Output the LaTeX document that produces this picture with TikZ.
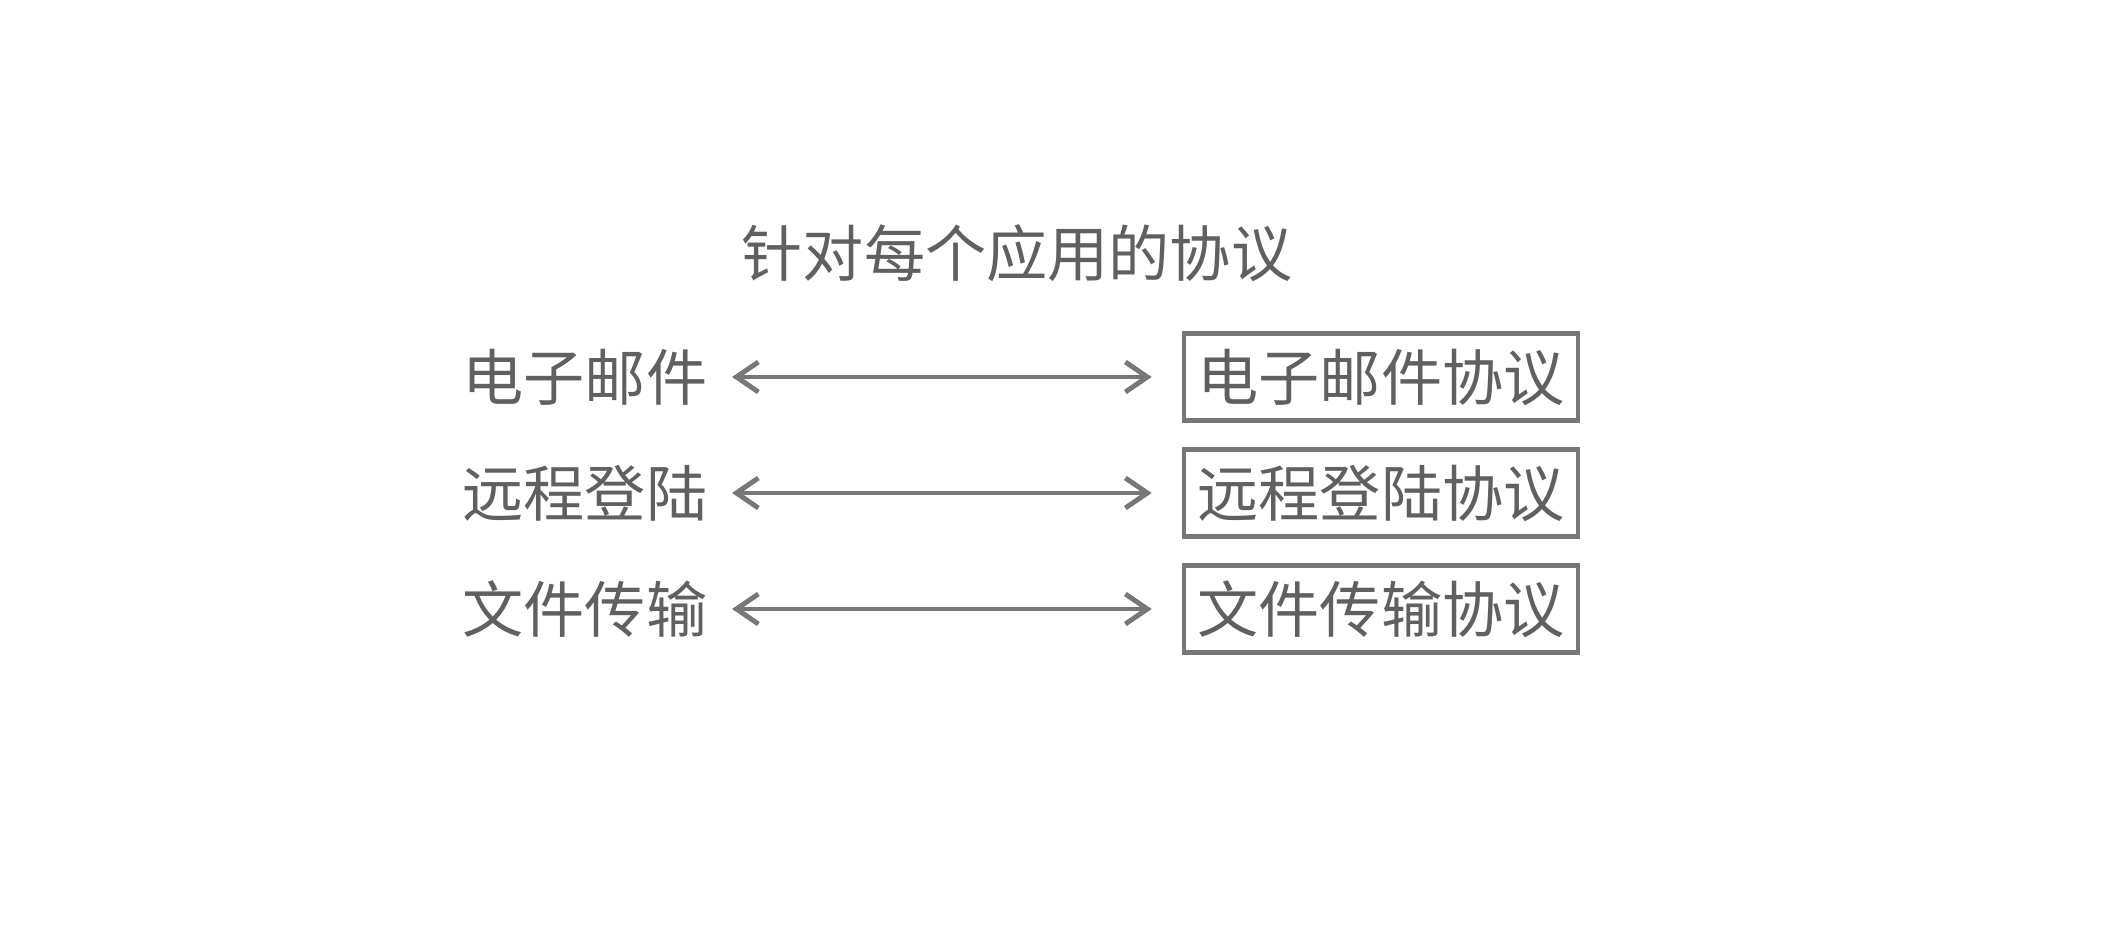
\documentclass[tikz,border=0pt]{standalone}
\usepackage{fontspec}
\usepackage{tikz}
\usetikzlibrary{arrows.meta,positioning}
\newfontfamily\cjkfont{Noto Sans CJK SC}
\definecolor{ProtoLine}{HTML}{777777}
\definecolor{ProtoText}{HTML}{606060}
\tikzset{
  apptext/.style={text=ProtoText,inner sep=0pt,
    font=\cjkfont\fontsize{17.4}{20}\selectfont},
  protobox/.style={apptext,draw=ProtoLine,line width=1.3pt,
    minimum width=3.94cm,minimum height=0.87cm},
  applink/.style={ProtoLine,line width=1.4pt,
    {Straight Barb[length=0.22cm,width=0.30cm]}-{Straight Barb[length=0.22cm,width=0.30cm]},
    shorten <=0.24cm,shorten >=0.30cm}
}

\begin{document}
\begin{tikzpicture}
        \useasboundingbox (0,0) rectangle (21.23,9.24);

        \node[apptext] (title) at (10.17,6.71) {针对每个应用的协议};

        % applications on the left
        \node[apptext,anchor=east] (mail) at (7.08,5.47) {电子邮件};
        \node[apptext,anchor=east] (login) at (7.08,4.31) {远程登陆};
        \node[apptext,anchor=east] (file) at (7.08,3.15) {文件传输};

        % protocols on the right
        \node[protobox] (mailp) at (13.81,5.47) {电子邮件协议};
        \node[protobox] (loginp) at (13.81,4.31) {远程登陆协议};
        \node[protobox] (filep) at (13.81,3.15) {文件传输协议};

        \draw[applink] (mail.east) -- (mailp.west);
        \draw[applink] (login.east) -- (loginp.west);
        \draw[applink] (file.east) -- (filep.west);
      \end{tikzpicture}
\end{document}
